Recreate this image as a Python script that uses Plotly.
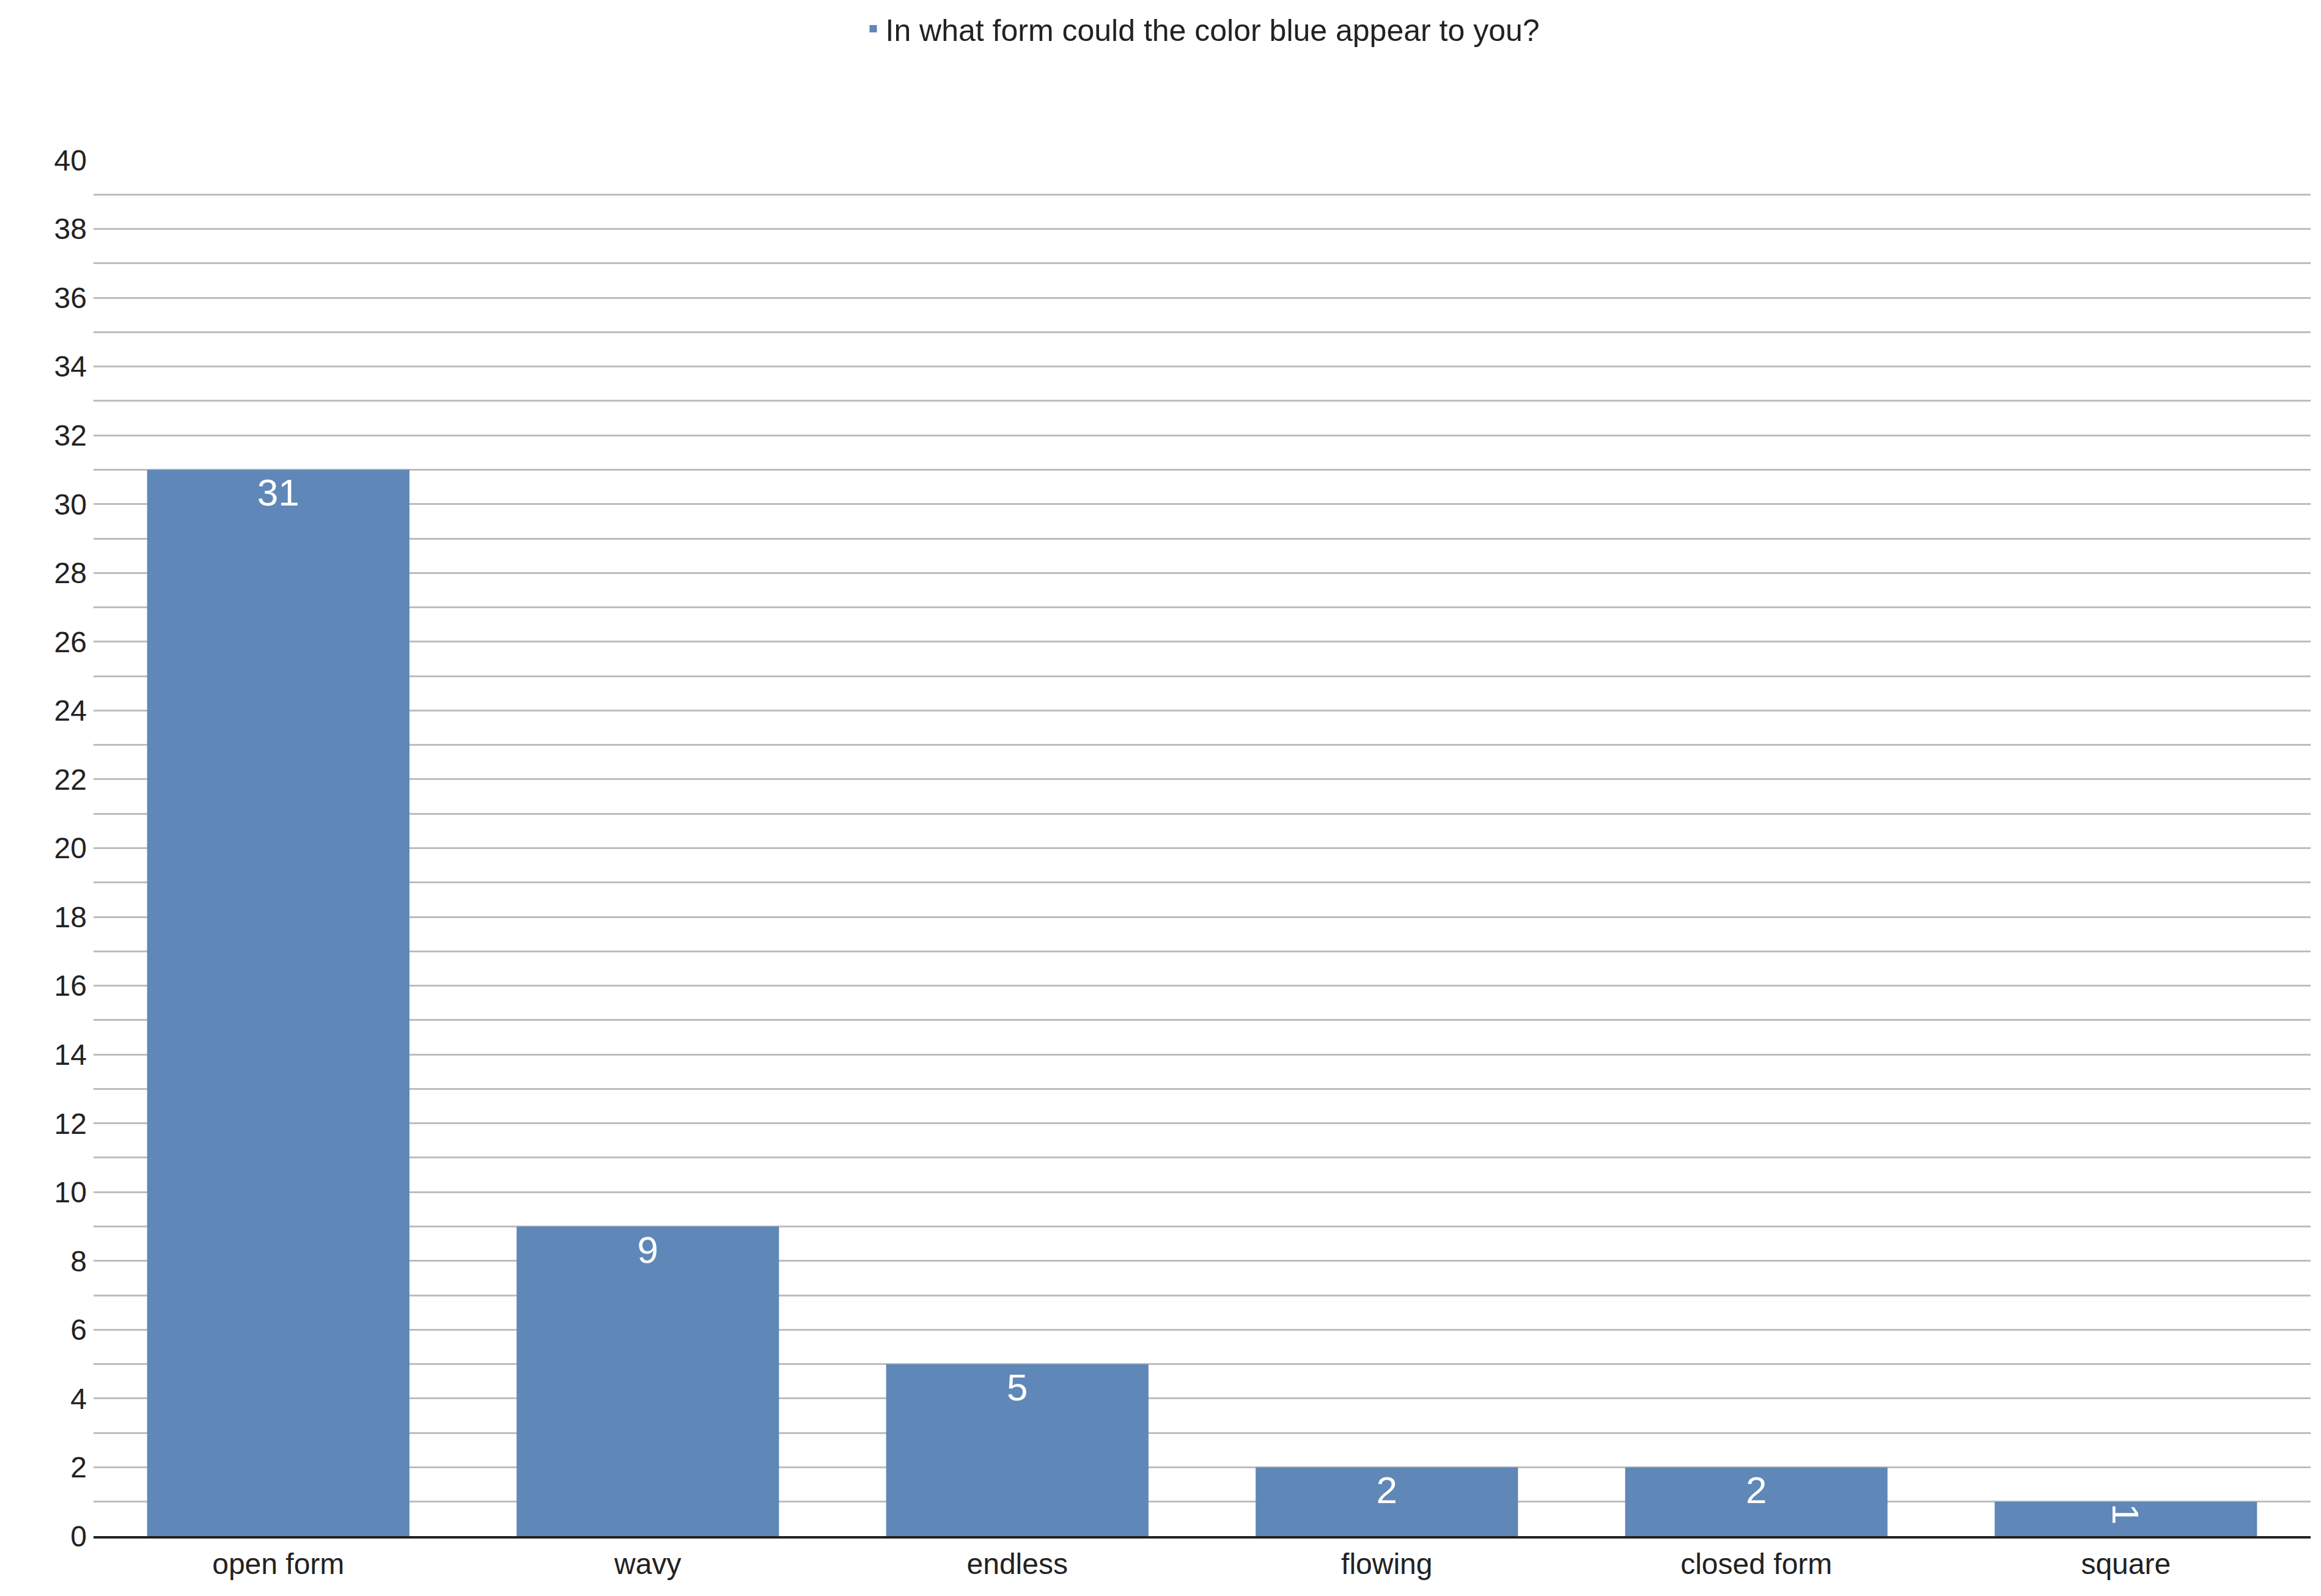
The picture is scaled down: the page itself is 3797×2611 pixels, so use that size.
import plotly.graph_objects as go

categories = ["open form", "wavy", "endless", "flowing", "closed form", "square"]
values = [31, 9, 5, 2, 2, 1]
series_name = "In what form could the color blue appear to you?"
tick_vals = list(range(0, 41, 2))

fig = go.Figure(go.Bar(
    x=categories, y=values, name=series_name, width=0.71,
    marker=dict(color="#5f87b8", line=dict(width=0)),
    text=[str(v) for v in values], textposition="inside", insidetextanchor="end",
    textfont=dict(color="white", size=62, family="Liberation Sans"),
    constraintext="none", showlegend=True,
))
fig.update_layout(
    width=3797, height=2611, paper_bgcolor="white", plot_bgcolor="white",
    margin=dict(l=145, r=25, t=254, b=106),
    font=dict(family="Liberation Sans", size=48, color="#222"),
    legend=dict(orientation="h", x=0.5, xanchor="center", y=1.0, yref="container", yanchor="top",
                font=dict(size=50)),
    bargap=0.29,
)
fig.update_yaxes(range=[0, 40], tickvals=tick_vals, showgrid=True, gridcolor="#bdbdbd", gridwidth=3,
                 minor=dict(dtick=1, showgrid=True, gridcolor="#bdbdbd", gridwidth=3),
                 zeroline=False, ticks="", ticklabelstandoff=10)
fig.update_xaxes(showline=True, linecolor="#222", linewidth=4, ticks="")
fig.write_html("out.html")
